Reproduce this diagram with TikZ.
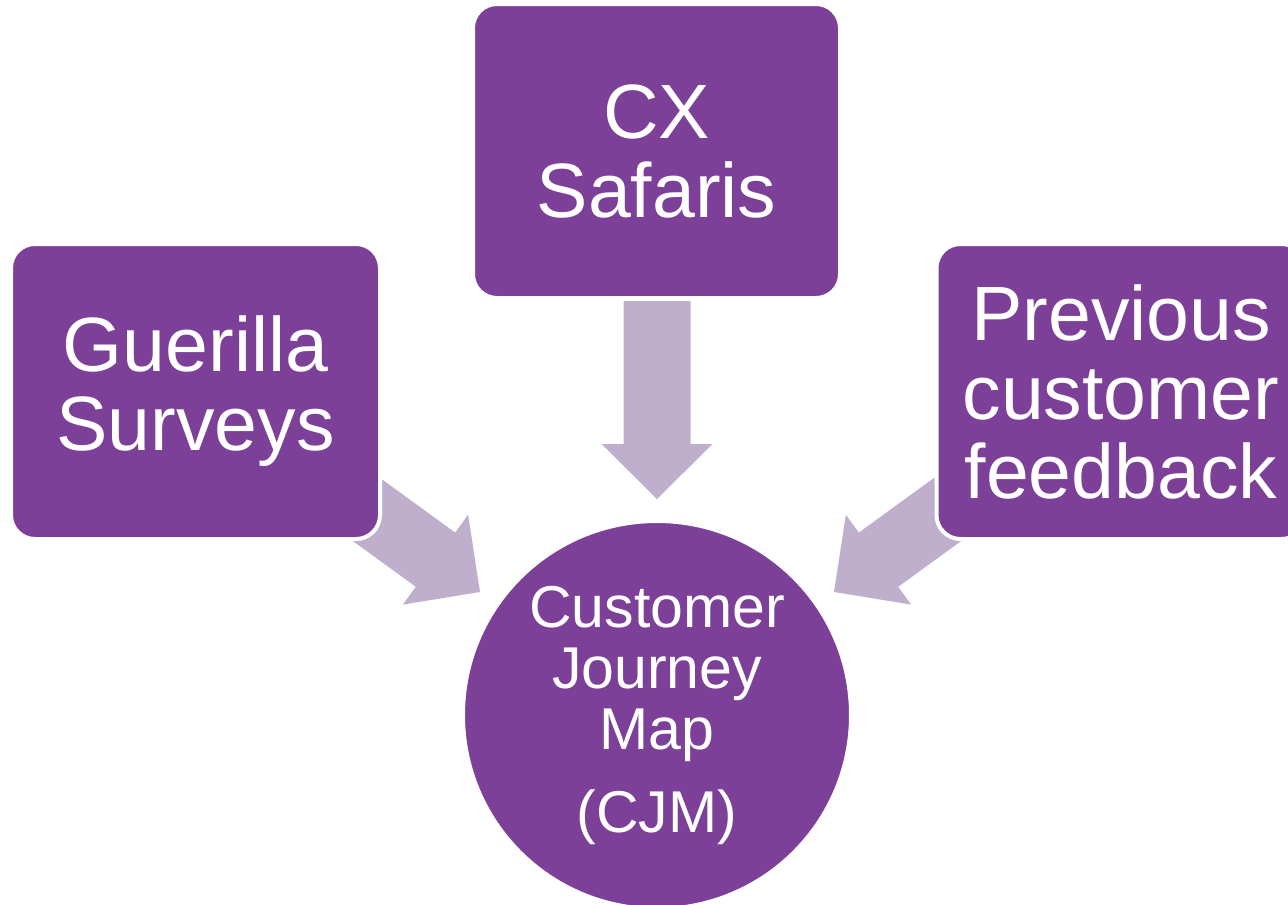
\documentclass[tikz,border=0pt]{standalone}
\usepackage{fontspec}
\setmainfont{Liberation Sans}
\definecolor{cjmpurple}{RGB}{124,64,152}
\definecolor{cjmlight}{RGB}{191,175,204}
\begin{document}
\begin{tikzpicture}[x=1pt,y=-1pt,
  srcbox/.style={rectangle,rounded corners=24pt,fill=cjmpurple,draw=white,line width=4pt,
    inner sep=0pt,outer sep=0pt,minimum width=369pt,minimum height=295pt,
    text=white,align=center,font=\fontsize{77}{79}\selectfont},
  mapcircle/.style={circle,fill=cjmpurple,draw=white,line width=4pt,inner sep=0pt,outer sep=0pt,
    minimum size=388pt,text=white,align=center,font=\fontsize{59}{61}\selectfont},
  blockarrow/.style={fill=cjmlight}
]
\useasboundingbox (0,0) rectangle (1288,905);
\clip (0,0) rectangle (1288,905);
% arrow tips
\coordinate (tipL) at (480,592);
\coordinate (tipT) at (657,499);
\coordinate (tipR) at (834,592);
\fill[blockarrow,shift={(tipT)},rotate=-90] (0,0) -- (-55,55.5) -- (-55,33.5) -- (-198,33.5) -- (-198,-33.5) -- (-55,-33.5) -- (-55,-55.5) -- cycle;
\fill[blockarrow,shift={(tipL)},rotate=-36] (0,0) -- (-55,55.5) -- (-55,33.5) -- (-198,33.5) -- (-198,-33.5) -- (-55,-33.5) -- (-55,-55.5) -- cycle;
\fill[blockarrow,shift={(tipR)},rotate=-144] (0,0) -- (-55,55.5) -- (-55,33.5) -- (-198,33.5) -- (-198,-33.5) -- (-55,-33.5) -- (-55,-55.5) -- cycle;
% boxes
\node[srcbox] (gs) at (195.5,391.5) {Guerilla\\Surveys};
\node[srcbox,minimum height=294pt,minimum width=367pt] (cx) at (656.5,151) {CX\\Safaris};
\node[srcbox] (pcf) at (1121,391.5) {Previous\\customer\\feedback};
% circle
\node[mapcircle] (cjm) at (657,715) {Customer\\Journey\\Map\\[22pt](CJM)};
\end{tikzpicture}
\end{document}
